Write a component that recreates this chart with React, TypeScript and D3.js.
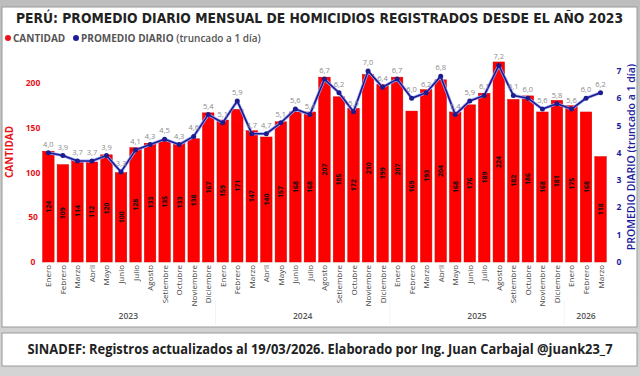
import React from "react";
import * as d3 from "d3";

const months = ["Enero","Febrero","Marzo","Abril","Mayo","Junio","Julio","Agosto","Setiembre","Octubre","Noviembre","Diciembre","Enero","Febrero","Marzo","Abril","Mayo","Junio","Julio","Agosto","Setiembre","Octubre","Noviembre","Diciembre","Enero","Febrero","Marzo","Abril","Mayo","Junio","Julio","Agosto","Setiembre","Octubre","Noviembre","Diciembre","Enero","Febrero","Marzo"];
const years = ["2023","2023","2023","2023","2023","2023","2023","2023","2023","2023","2023","2023","2024","2024","2024","2024","2024","2024","2024","2024","2024","2024","2024","2024","2025","2025","2025","2025","2025","2025","2025","2025","2025","2025","2025","2025","2026","2026","2026"];
const cantidad = [124,109,114,112,120,100,128,133,135,133,138,167,159,171,147,140,157,168,168,207,185,172,210,199,207,169,193,204,168,176,189,224,182,186,168,181,175,168,118];
const promedio = [4.0,3.9,3.7,3.7,3.9,3.3,4.1,4.3,4.5,4.3,4.6,5.4,5.1,5.9,4.7,4.7,5.1,5.6,5.4,6.7,6.2,5.5,7.0,6.4,6.7,6.0,6.2,6.8,5.4,5.9,6.1,7.2,6.1,6.0,5.6,5.8,5.6,6.0,6.2];
const leftTicks = [0,50,100,150,200];
const rightTicks = [0,1,2,3,4,5,6,7];

const W = 640, H = 376;
const fmt = (v: number) => v.toFixed(1).replace(".", ",");

export default function App() {
  const idx = cantidad.map((_, i) => i);
  const x = d3.scaleBand<number>().domain(idx).range([41.1, 607.8]).paddingInner(0.21).paddingOuter(0.105);
  const yL = d3.scaleLinear().domain([0, 250]).range([262, 262 - 250 * 0.893]);
  const yR = d3.scaleLinear().domain([0, 8]).range([262, 262 - 8 * 27.3]);
  const cx = (i: number) => (x(i) as number) + x.bandwidth() / 2;
  const line = d3.line<number>().x((_, i) => cx(i)).y((d) => yR(d));
  const yearGroups = d3.groups(idx, (i) => years[i]);
  const font = "'Open Sans', 'Noto Sans', sans-serif";

  return (
    <div style={{ position: "fixed", left: 0, top: 0, width: W, height: H }}>
      <svg width={W} height={H} style={{ display: "block" }}>
        <defs>
          <linearGradient id="bg" x1="0" y1="0" x2="0" y2="1">
            <stop offset="0" stopColor="#bdbdbd" />
            <stop offset="1" stopColor="#d4d4d4" />
          </linearGradient>
        </defs>
        <rect x={0} y={0} width={W} height={H} fill="url(#bg)" />
        <rect x={2} y={7} width={635} height={320} fill="#fff" stroke="#9a9a9a" strokeWidth={1} />
        <rect x={2} y={333} width={635} height={33} fill="#fff" stroke="#9a9a9a" strokeWidth={1} />

        <text x={16} y={23} fontFamily="'DejaVu Sans Condensed', 'DejaVu Sans', sans-serif" fontStretch="condensed" fontWeight={700} fontSize={13.8} fill="#222" textLength={607} lengthAdjust="spacingAndGlyphs">PERÚ: PROMEDIO DIARIO MENSUAL DE HOMICIDIOS REGISTRADOS DESDE EL AÑO 2023</text>

        <circle cx={8} cy={38} r={3} fill="#e8141c" />
        <text x={13} y={41.5} fontFamily={font} fontWeight={700} fontSize={10} fill="#555">CANTIDAD</text>
        <circle cx={76} cy={38} r={3} fill="#1c1c9c" />
        <text x={81} y={41.5} fontFamily={font} fontWeight={700} fontSize={10} fill="#555">PROMEDIO DIARIO <tspan fontWeight={600}>(truncado a 1 día)</tspan></text>

        {/* left axis */}
        {leftTicks.map((t) => (
          <text key={"l" + t} x={33} y={yL(t) + 3} textAnchor="middle" fontFamily={font} fontWeight={700} fontSize={8.5} fill="#e8141c">{t}</text>
        ))}
        <text transform={`translate(13,152) rotate(-90)`} textAnchor="middle" fontFamily={font} fontWeight={700} fontSize={10} fill="#e8141c">CANTIDAD</text>

        {/* right axis */}
        {rightTicks.map((t) => (
          <text key={"r" + t} x={619} y={yR(t) + 3} textAnchor="middle" fontFamily={font} fontWeight={700} fontSize={8.5} fill="#1c1c9c">{t}</text>
        ))}
        <text transform={`translate(635,157) rotate(-90)`} textAnchor="middle" fontFamily={font} fontWeight={600} fontSize={10.5} fill="#1c1c9c">PROMEDIO DIARIO (truncado a 1 día)</text>

        {/* bars */}
        {cantidad.map((v, i) => (
          <rect key={"b" + i} x={x(i)} y={yL(v)} width={x.bandwidth()} height={yL(0) - yL(v)} fill="#ff0000" stroke="#d40000" strokeWidth={0.5} />
        ))}
        {cantidad.map((v, i) => (
          <text key={"bl" + i} transform={`translate(${cx(i) + 2.5},${(yL(v) + yL(0)) / 2}) rotate(-90)`} textAnchor="middle" fontFamily={font} fontWeight={700} fontSize={7} fill="#111">{v}</text>
        ))}

        {/* line */}
        <path d={line(promedio) || ""} fill="none" stroke="#9aa8ff" strokeWidth={3} strokeLinejoin="round" />
        <path d={line(promedio) || ""} fill="none" stroke="#1c1c8c" strokeWidth={1.6} strokeLinejoin="round" />
        {promedio.map((v, i) => (
          <circle key={"p" + i} cx={cx(i)} cy={yR(v)} r={2.5} fill="#1c1c8c" />
        ))}
        {promedio.map((v, i) => (
          <text key={"pl" + i} x={cx(i)} y={yR(v) - 6} textAnchor="middle" fontFamily={font} fontSize={7.5} fill="#8a8a8a">{fmt(v)}</text>
        ))}

        {/* month labels */}
        {months.map((m, i) => (
          <text key={"m" + i} transform={`translate(${cx(i) + 3},265) rotate(-90)`} textAnchor="end" fontFamily={font} fontSize={8} fill="#444">{m}</text>
        ))}
        {/* year separators */}
        {yearGroups.slice(1).map(([y, arr]) => (
          <line key={"s" + y} x1={cx(arr[0]) - x.step() / 2} x2={cx(arr[0]) - x.step() / 2} y1={300} y2={325} stroke="#f3f3f3" strokeWidth={1} />
        ))}
        {yearGroups.map(([y, arr]) => (
          <text key={"y" + y} x={(cx(arr[0]) + cx(arr[arr.length - 1])) / 2} y={319} textAnchor="middle" fontFamily={font} fontWeight={600} fontSize={8.5} fill="#555">{y}</text>
        ))}

        <text x={320} y={354} textAnchor="middle" fontFamily={font} fontWeight={700} fontSize={13.5} fill="#222" textLength={585} lengthAdjust="spacingAndGlyphs">SINADEF: Registros actualizados al 19/03/2026. Elaborado por Ing. Juan Carbajal @juank23_7</text>
      </svg>
    </div>
  );
}
